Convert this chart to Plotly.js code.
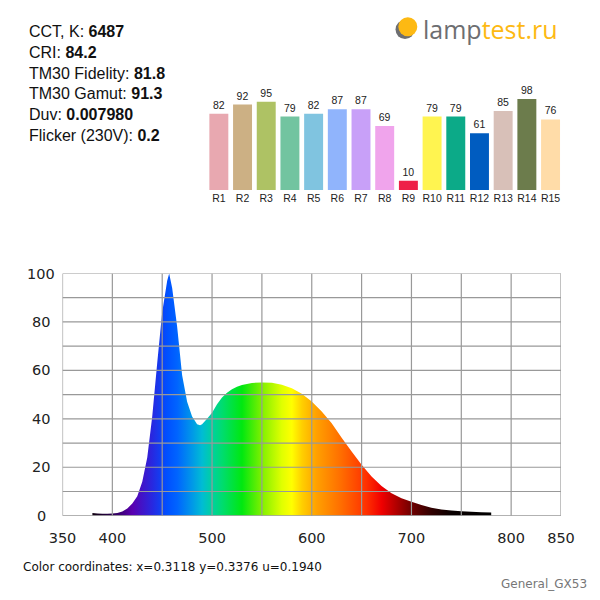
<!DOCTYPE html>
<html lang="en">
<head>
    <meta charset="UTF-8">
    <title>Lamp spectrum</title>
    <script src="https://cdn.plot.ly/plotly-3.0.1.min.js"></script>
    <style>
        * { margin: 0; padding: 0; box-sizing: border-box; }
        body { background: #ffffff; }
        #chart { width: 600px; height: 600px; }
    </style>
</head>
<body>
    <div id="chart"></div>

    <script>
        // Spectrum (relative intensity, %)
        const wavelengths = [380, 385, 390, 395, 400, 405, 410, 415, 420, 425, 430, 435, 440, 445, 450, 455, 457,
            460, 465, 470, 475, 480, 485, 488, 490, 495, 500, 505, 510, 515, 520, 525, 530, 540, 550, 560, 570,
            580, 590, 600, 610, 620, 630, 640, 650, 660, 670, 680, 690, 700, 710, 720, 730, 740, 750, 760, 770, 780];
        const intensity = [1.1, 0.9, 0.8, 0.8, 0.9, 1.1, 1.7, 3.0, 5.0, 8.0, 14, 24, 41, 63, 84, 97, 100,
            94, 78, 58, 47, 41, 37.8, 37.3, 37.8, 40, 42.5, 46, 48.8, 50.8, 52.2, 53.2, 54, 54.8, 55, 54.9, 54.1,
            52.6, 50.3, 47.2, 43, 38.2, 32.2, 26.5, 21, 16.2, 12.3, 9.3, 7.2, 5.8, 4.4, 3.3, 2.6, 2.1, 1.8, 1.6, 1.4, 1.3];

        // Axis ticks
        const xTickVals = [350, 400, 500, 600, 700, 800, 850];
        const xGrid = [350, 400, 450, 500, 550, 600, 650, 700, 750, 800, 850];
        const yTickVals = [0, 20, 40, 60, 80, 100];
        const yGrid = [0, 10, 20, 30, 40, 50, 60, 70, 80, 90, 100];

        // Colour rendering indices
        const criLabels = ['R1', 'R2', 'R3', 'R4', 'R5', 'R6', 'R7', 'R8', 'R9', 'R10', 'R11', 'R12', 'R13', 'R14', 'R15'];
        const criValues = [82, 92, 95, 79, 82, 87, 87, 69, 10, 79, 79, 61, 85, 98, 76];
        const criColors = ['#e8a8b0', '#ccb084', '#aec264', '#72c4a0', '#80c4e0', '#90b4fc', '#c8a0f8', '#f0a4ec',
            '#ee2048', '#fff450', '#0caa88', '#005cc0', '#d8c0b8', '#6c7c4c', '#ffdca8'];

        // Spectral colours along the wavelength axis
        const rainbowNm = [380, 400, 420, 440, 455, 465, 480, 490, 500, 510, 530, 550, 570, 580, 590, 605, 630, 655, 670, 685, 700, 720, 740, 780];
        const rainbowColors = ['#100010', '#2a0050', '#5a00b0', '#2828e0', '#0050ff', '#0064ff', '#0098e8', '#00bcd4',
            '#00d0a0', '#00dc70', '#00e810', '#80f000', '#e0ff00', '#ffff00', '#ffd000', '#ffa000', '#ff6c00',
            '#ff3000', '#f00000', '#b00000', '#700000', '#300000', '#0a0000', '#000000'];

        const stats = [
            ['CCT, K', '6487'],
            ['CRI', '84.2'],
            ['TM30 Fidelity', '81.8'],
            ['TM30 Gamut', '91.3'],
            ['Duv', '0.007980'],
            ['Flicker (230V)', '0.2']
        ];

        const nmMin = rainbowNm[0];
        const nmMax = rainbowNm[rainbowNm.length - 1];
        const colorscale = rainbowNm.map((nm, i) => [(nm - nmMin) / (nmMax - nmMin), rainbowColors[i]]);

        const W = 600, H = 600;
        const px = v => v / W;
        const py = v => 1 - v / H;

        const spectrum = {
            x: wavelengths,
            y: intensity,
            type: 'scatter',
            mode: 'none',
            fill: 'tozeroy',
            fillgradient: {
                type: 'horizontal',
                colorscale: colorscale,
                start: nmMin,
                stop: nmMax
            },
            hoverinfo: 'skip',
            xaxis: 'x',
            yaxis: 'y'
        };

        const bars = {
            x: criLabels,
            y: criValues,
            type: 'bar',
            marker: { color: criColors },
            text: criValues.map(String),
            textposition: 'outside',
            textfont: { family: 'Liberation Sans, Arial, sans-serif', size: 10.5, color: '#222' },
            cliponaxis: false,
            hoverinfo: 'skip',
            xaxis: 'x2',
            yaxis: 'y2'
        };

        const gridColor = '#999999';
        const shapes = [];
        xGrid.forEach(v => shapes.push({
            type: 'line', layer: 'above', xref: 'x', yref: 'y',
            x0: v, x1: v, y0: 0, y1: 100,
            line: { color: gridColor, width: 1.2 }
        }));
        yGrid.forEach(v => shapes.push({
            type: 'line', layer: 'above', xref: 'x', yref: 'y',
            x0: 350, x1: 850, y0: v, y1: v,
            line: { color: gridColor, width: 1.2 }
        }));

        // logo bulb
        shapes.push({
            type: 'circle', xref: 'paper', yref: 'paper', layer: 'above',
            x0: px(395.5), x1: px(414.5), y0: py(39), y1: py(20),
            fillcolor: '#6d6e71', line: { width: 0 }
        });
        shapes.push({
            type: 'circle', xref: 'paper', yref: 'paper', layer: 'above',
            x0: px(398.3), x1: px(417.3), y0: py(36.2), y1: py(17.2),
            fillcolor: '#fdb913', line: { width: 0 }
        });

        const annotations = [];

        annotations.push({
            xref: 'paper', yref: 'paper',
            x: px(27), y: py(83.5),
            xanchor: 'left', yanchor: 'middle', align: 'left',
            showarrow: false,
            text: stats.map(s => s[0] + ': <b>' + s[1] + '</b>').join('<br>'),
            font: { family: 'Liberation Sans, Arial, sans-serif', size: 16, color: '#111' }
        });

        annotations.push({
            xref: 'paper', yref: 'paper',
            x: px(421), y: py(29),
            xanchor: 'left', yanchor: 'middle',
            showarrow: false,
            text: '<span style="color:#6d6e71">lamp</span><span style="color:#fdb913">test.ru</span>',
            font: { family: 'Open Sans, sans-serif', size: 25, color: '#6d6e71' }
        });

        yTickVals.forEach(v => annotations.push({
            xref: 'paper', yref: 'y',
            x: px(41), y: v,
            xanchor: 'center', yanchor: 'middle',
            showarrow: false,
            text: String(v),
            font: { family: 'DejaVu Sans, Verdana, sans-serif', size: 14.5, color: '#222' }
        }));

        annotations.push({
            xref: 'paper', yref: 'paper',
            x: px(21), y: py(566.5),
            xanchor: 'left', yanchor: 'middle',
            showarrow: false,
            text: 'Color coordinates: x=0.3118 y=0.3376 u=0.1940',
            font: { family: 'DejaVu Sans, Verdana, sans-serif', size: 12, color: '#111' }
        });

        annotations.push({
            xref: 'paper', yref: 'paper',
            x: px(589), y: py(584),
            xanchor: 'right', yanchor: 'middle',
            showarrow: false,
            text: 'General_GX53',
            font: { family: 'DejaVu Sans, Verdana, sans-serif', size: 12, color: '#777' }
        });

        const layout = {
            width: W,
            height: H,
            margin: { l: 0, r: 0, t: 0, b: 0 },
            paper_bgcolor: '#ffffff',
            plot_bgcolor: '#ffffff',
            showlegend: false,
            bargap: 0.2,
            xaxis: {
                domain: [px(62.5), px(561)],
                range: [350, 850],
                tickvals: xTickVals,
                ticks: '',
                ticklabelstandoff: 12,
                showgrid: false,
                zeroline: false,
                showline: false,
                fixedrange: true,
                tickfont: { family: 'DejaVu Sans, Verdana, sans-serif', size: 14.5, color: '#222' }
            },
            yaxis: {
                domain: [py(515.7), py(273.5)],
                range: [0, 100],
                showticklabels: false,
                ticks: '',
                showgrid: false,
                zeroline: false,
                showline: false,
                fixedrange: true
            },
            xaxis2: {
                domain: [px(207), px(562.4)],
                anchor: 'y2',
                type: 'category',
                ticks: '',
                ticklabelstandoff: 0,
                showgrid: false,
                zeroline: false,
                showline: false,
                fixedrange: true,
                tickfont: { family: 'Liberation Sans, Arial, sans-serif', size: 10.5, color: '#222' }
            },
            yaxis2: {
                domain: [py(190), py(97.1)],
                anchor: 'x2',
                range: [0, 100],
                visible: false,
                fixedrange: true
            },
            shapes: shapes,
            annotations: annotations
        };

        Plotly.newPlot('chart', [spectrum, bars], layout, { displayModeBar: false, staticPlot: true });
    </script>
</body>
</html>
